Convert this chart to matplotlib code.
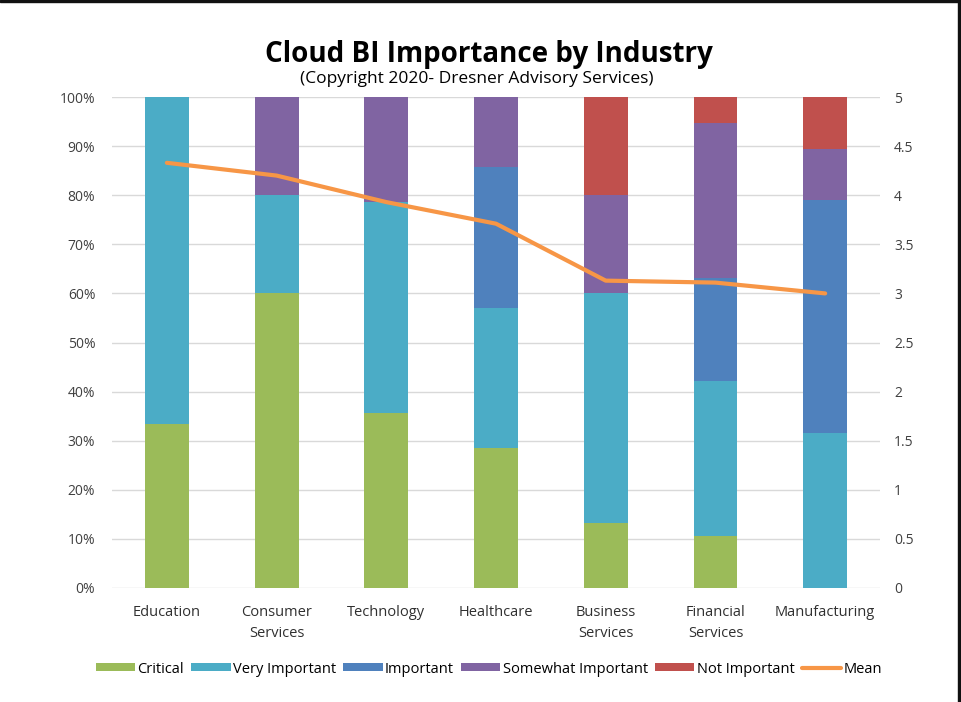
#!/usr/bin/env python3
"""
Cloud BI Importance by Industry - 堆叠百分比柱状图 + 均值折线
"""
import matplotlib
matplotlib.use('Agg')
import matplotlib.pyplot as plt
from matplotlib.lines import Line2D
from matplotlib.patches import Patch, Rectangle
import numpy as np

# 数据
industries = ['Education', 'Consumer\nServices', 'Technology', 'Healthcare',
              'Business\nServices', 'Financial\nServices', 'Manufacturing']
critical = [33.3, 60.0, 35.7, 28.6, 13.3, 10.5, 0.0]
very_important = [66.7, 20.0, 42.9, 28.5, 46.7, 31.6, 31.6]
important = [0.0, 0.0, 0.0, 28.6, 0.0, 21.1, 47.4]
somewhat_important = [0.0, 20.0, 21.4, 14.3, 20.0, 31.5, 10.5]
not_important = [0.0, 0.0, 0.0, 0.0, 20.0, 5.3, 10.5]
mean_score = [4.33, 4.20, 3.93, 3.71, 3.13, 3.11, 3.00]

series_names = ['Critical', 'Very Important', 'Important', 'Somewhat Important', 'Not Important']
series_colors = ['#9BBB59', '#4BACC6', '#4F81BD', '#8064A2', '#C0504D']
mean_color = '#F79646'

plt.rcParams['font.family'] = ['Open Sans', 'DejaVu Sans']

fig = plt.figure(figsize=(9.62, 7.02), dpi=100)
ax = fig.add_axes([0.1164, 0.1624, 0.7984, 0.6994])

x = np.arange(len(industries))
bottom = np.zeros(len(industries))
for vals, color in zip([critical, very_important, important, somewhat_important, not_important],
                       series_colors):
    ax.bar(x, vals, bottom=bottom, width=0.4, color=color, zorder=2)
    bottom += np.array(vals)

ax.set_xlim(-0.5, len(industries) - 0.5)
ax.set_ylim(0, 100)
ax.set_yticks(np.arange(0, 101, 10))
ax.set_yticklabels([f'{v}%' for v in range(0, 101, 10)], fontsize=10, color='#404040')
ax.set_xticks(x)
ax.set_xticklabels(industries, fontsize=10.5, color='#303030', linespacing=1.62)
ax.tick_params(axis='both', length=0)
ax.tick_params(axis='y', pad=12)
ax.tick_params(axis='x', pad=12)
ax.grid(True, axis='y', color='#D9D9D9', linewidth=1, zorder=0)
for s in ax.spines.values():
    s.set_visible(False)

# 右轴：均值
ax2 = ax.twinx()
ax2.plot(x, mean_score, color=mean_color, linewidth=3, solid_capstyle='round', zorder=3)
ax2.set_ylim(0, 5)
ax2.set_yticks(np.arange(0, 5.01, 0.5))
ax2.set_yticklabels([f'{v:g}' for v in np.arange(0, 5.01, 0.5)], fontsize=10, color='#404040')
ax2.tick_params(axis='y', length=0, pad=10)
for s in ax2.spines.values():
    s.set_visible(False)

# 标题
fig.text(0.508, 0.923, 'Cloud BI Importance by Industry', ha='center', va='center',
         fontsize=20, fontweight='bold', color='black')
fig.text(0.496, 0.887, '(Copyright 2020- Dresner Advisory Services)', ha='center', va='center',
         fontsize=12.5, color='black')

# 图例
handles = [Patch(facecolor=c, edgecolor='none') for c in series_colors]
handles.append(Line2D([0], [0], color=mean_color, linewidth=3, solid_capstyle='round'))
fig.legend(handles, series_names + ['Mean'], loc='center', bbox_to_anchor=(0.508, 0.047),
           ncol=6, frameon=False, fontsize=10.5, handlelength=2.7, handleheight=0.45,
           handletextpad=0.15, columnspacing=0.5)

# 黑色边框（上、右）
fig.patches.append(Rectangle((0, 0.997), 1, 0.003, transform=fig.transFigure, color='#111111'))
fig.patches.append(Rectangle((0.9955, 0), 0.0045, 1, transform=fig.transFigure, color='#111111'))

plt.savefig('out.png', dpi=100)
plt.close()
